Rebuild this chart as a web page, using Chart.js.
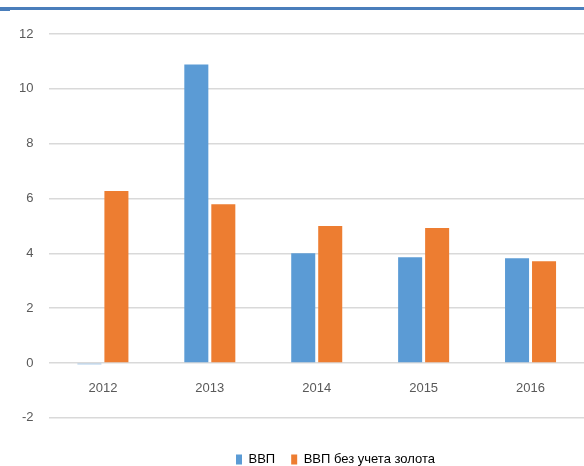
<!DOCTYPE html>
<html>
<head>
<meta charset="utf-8">
<script src="https://cdn.jsdelivr.net/npm/chart.js@4"></script>
<style>
  body { margin: 0; overflow: hidden; background: #fff; }
  .frame { position: relative; width: 674px; height: 466px; }
  .topline { position: absolute; left: 0; top: 7px; width: 584px; height: 3px; background: #4a7ebb; }
  .topline-tab { position: absolute; left: 0; top: 10px; width: 10px; height: 1px; background: #4a7ebb; }
</style>
</head>
<body>
<div class="frame">
  <canvas id="myChart"></canvas>
  <div class="topline"></div>
  <div class="topline-tab"></div>
</div>
<script>
  const years = ['2012', '2013', '2014', '2015', '2016'];
  const gdp = [-0.05, 10.89, 4.0, 3.86, 3.82];
  const gdpNoGold = [6.27, 5.79, 5.0, 4.92, 3.71];
  const seriesNames = ['ВВП', 'ВВП без учета золота'];
  const yTicks = { min: -2, max: 12, step: 2 };

  Chart.defaults.font.family = "'Liberation Sans', Arial, sans-serif";
  Chart.defaults.color = '#595959';

  // nudge the legend row a bit to the right of the plot centre
  const legendShift = {
    id: 'legendShift',
    afterLayout(chart) {
      chart.legend.left += 42;
      chart.legend.right += 42;
    }
  };

  const ctx = document.getElementById('myChart');

  new Chart(ctx, {
    type: 'bar',
    data: {
      labels: years,
      datasets: [{
        label: seriesNames[0],
        data: gdp,
        backgroundColor: '#5b9bd5',
        categoryPercentage: 0.505,
        barPercentage: 0.89
      }, {
        label: seriesNames[1],
        data: gdpNoGold,
        backgroundColor: '#ed7d31',
        categoryPercentage: 0.505,
        barPercentage: 0.89
      }]
    },
    options: {
      responsive: true,
      maintainAspectRatio: false,
      animation: false,
      layout: {
        padding: { top: 34, right: 90, left: 3, bottom: -10 }
      },
      plugins: {
        tooltip: { enabled: false },
        legend: {
          position: 'bottom',
          // blank title only reserves space between the plot and the legend row
          title: { display: true, text: ' ', font: { size: 1 }, padding: { top: 0, bottom: 18 } },
          labels: {
            boxWidth: 6,
            boxHeight: 10,
            padding: 16,
            font: { size: 13 },
            color: '#000'
          }
        }
      },
      scales: {
        x: {
          position: { y: 0 },
          grid: { display: false, drawTicks: false },
          border: { display: false },
          ticks: { padding: 18, font: { size: 13 } }
        },
        y: {
          min: yTicks.min,
          max: yTicks.max,
          ticks: { stepSize: yTicks.step, padding: 16, font: { size: 13 } },
          grid: { color: '#d9d9d9', lineWidth: 1.5, drawTicks: false },
          border: { display: false }
        }
      }
    },
    plugins: [legendShift]
  });
</script>
</body>
</html>
